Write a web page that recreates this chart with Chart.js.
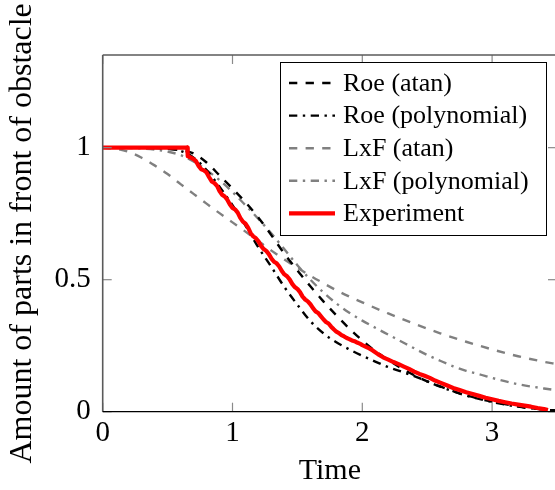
<!DOCTYPE html>
<html>
<head>
<meta charset="utf-8">
<script src="https://cdn.jsdelivr.net/npm/chart.js@4.4.1/dist/chart.umd.min.js"></script>
<style>
html,body{margin:0;padding:0;overflow:hidden;background:#fff;width:555px;height:490px;}
canvas{display:block;}
</style>
</head>
<body>
<canvas id="c" width="560" height="490"></canvas>
<script>
// ---- data ----
const seriesLabels = ['Roe (atan)', 'Roe (polynomial)', 'LxF (atan)', 'LxF (polynomial)', 'Experiment'];
const xTickValues = [0, 1, 2, 3];
const yTickValues = [0, 0.5, 1];
const xAxisTitle = 'Time';
const yAxisTitle = 'Amount of parts in front of obstacle';

const roeAtanX = [0, 0.4, 0.5, 0.6, 0.7, 0.8, 0.9, 1.0, 1.1, 1.2, 1.3, 1.4, 1.5, 1.6, 1.7, 1.8, 1.9, 2.0, 2.1, 2.2, 2.3, 2.4, 2.5, 2.6, 2.7, 2.8, 3.0, 3.2, 3.4, 3.5];
const roeAtanY = [1, 0.999, 0.996, 0.99, 0.978, 0.944, 0.895, 0.845, 0.793, 0.735, 0.668, 0.598, 0.535, 0.475, 0.418, 0.365, 0.315, 0.27, 0.23, 0.196, 0.165, 0.138, 0.115, 0.096, 0.078, 0.062, 0.038, 0.02, 0.008, 0.004];

const roePolyX = [0, 0.4, 0.5, 0.6, 0.7, 0.8, 0.9, 1.0, 1.1, 1.2, 1.3, 1.4, 1.5, 1.6, 1.7, 1.8, 1.9, 2.0, 2.1, 2.2, 2.3, 2.4, 2.5, 2.6, 2.7, 2.8, 3.0, 3.2, 3.4, 3.5];
const roePolyY = [1, 0.999, 0.996, 0.988, 0.962, 0.915, 0.852, 0.782, 0.705, 0.622, 0.548, 0.472, 0.405, 0.343, 0.297, 0.263, 0.236, 0.212, 0.19, 0.169, 0.152, 0.135, 0.115, 0.095, 0.077, 0.061, 0.037, 0.019, 0.008, 0.004];

const lxfAtanX = [0, 0.1, 0.2, 0.3, 0.4, 0.5, 0.6, 0.7, 0.8, 0.9, 1.0, 1.1, 1.2, 1.3, 1.4, 1.5, 1.6, 1.7, 1.8, 1.9, 2.0, 2.2, 2.4, 2.6, 2.8, 3.0, 3.2, 3.4, 3.5];
const lxfAtanY = [1, 0.996, 0.984, 0.962, 0.933, 0.9, 0.862, 0.825, 0.788, 0.752, 0.717, 0.682, 0.646, 0.61, 0.576, 0.545, 0.515, 0.487, 0.46, 0.436, 0.414, 0.372, 0.333, 0.297, 0.265, 0.236, 0.21, 0.189, 0.18];

const lxfPolyX = [0, 0.2, 0.4, 0.5, 0.6, 0.7, 0.8, 0.9, 1.0, 1.1, 1.2, 1.3, 1.4, 1.5, 1.6, 1.7, 1.8, 1.9, 2.0, 2.1, 2.2, 2.3, 2.4, 2.5, 2.6, 2.7, 2.8, 2.9, 3.0, 3.2, 3.4, 3.5];
const lxfPolyY = [1, 0.999, 0.993, 0.985, 0.972, 0.948, 0.915, 0.877, 0.832, 0.782, 0.73, 0.675, 0.615, 0.555, 0.5, 0.452, 0.41, 0.375, 0.345, 0.318, 0.292, 0.266, 0.24, 0.215, 0.193, 0.172, 0.155, 0.142, 0.128, 0.104, 0.088, 0.081];

const expX = [0, 0.652, 0.655, 0.68, 0.70, 0.72, 0.74, 0.76, 0.78, 0.80, 0.82, 0.84, 0.86, 0.88, 0.90, 0.92, 0.94, 0.96, 0.98, 1.00, 1.02, 1.04, 1.06, 1.08, 1.10, 1.12, 1.14, 1.16, 1.18, 1.20, 1.22, 1.24, 1.26, 1.28, 1.30, 1.32, 1.34, 1.36, 1.38, 1.40, 1.42, 1.44, 1.46, 1.48, 1.50, 1.52, 1.54, 1.56, 1.58, 1.60, 1.62, 1.64, 1.66, 1.68, 1.70, 1.72, 1.74, 1.76, 1.78, 1.80, 1.82, 1.84, 1.86, 1.88, 1.90, 1.92, 1.94, 1.96, 1.98, 2.00, 2.04, 2.08, 2.12, 2.16, 2.20, 2.24, 2.28, 2.32, 2.36, 2.40, 2.44, 2.48, 2.52, 2.56, 2.60, 2.65, 2.70, 2.75, 2.80, 2.85, 2.90, 2.95, 3.00, 3.05, 3.10, 3.15, 3.20, 3.25, 3.30, 3.35, 3.40, 3.43];
const expY = [1, 1, 0.968, 0.962, 0.957, 0.948, 0.930, 0.918, 0.914, 0.906, 0.888, 0.872, 0.866, 0.856, 0.836, 0.822, 0.815, 0.803, 0.785, 0.772, 0.766, 0.754, 0.734, 0.720, 0.712, 0.697, 0.676, 0.664, 0.657, 0.645, 0.628, 0.616, 0.609, 0.597, 0.580, 0.568, 0.562, 0.550, 0.533, 0.520, 0.513, 0.501, 0.484, 0.472, 0.465, 0.453, 0.436, 0.425, 0.418, 0.407, 0.392, 0.380, 0.374, 0.362, 0.350, 0.340, 0.334, 0.322, 0.312, 0.303, 0.298, 0.290, 0.285, 0.279, 0.275, 0.270, 0.267, 0.262, 0.258, 0.252, 0.243, 0.232, 0.218, 0.206, 0.197, 0.188, 0.180, 0.171, 0.162, 0.152, 0.143, 0.136, 0.128, 0.118, 0.110, 0.100, 0.090, 0.082, 0.074, 0.067, 0.060, 0.053, 0.047, 0.041, 0.036, 0.031, 0.027, 0.023, 0.019, 0.014, 0.010, 0.006];

// ---- helpers ----
const pts = (xs, ys) => xs.map((v, i) => ({x: v, y: ys[i]}));
const FONT = "'Liberation Serif', 'Times New Roman', serif";
const DASHED = [8.3, 8.3];
const DASHDOT = [8.3, 5.5, 2.4, 5.5];

const datasets = [
  {label: seriesLabels[0], data: pts(roeAtanX, roeAtanY), borderColor: '#000000', borderWidth: 2.4, borderDash: DASHED, cubicInterpolationMode: 'monotone', order: 2},
  {label: seriesLabels[1], data: pts(roePolyX, roePolyY), borderColor: '#000000', borderWidth: 2.4, borderDash: DASHDOT, cubicInterpolationMode: 'monotone', order: 1},
  {label: seriesLabels[2], data: pts(lxfAtanX, lxfAtanY), borderColor: '#808080', borderWidth: 2.4, borderDash: DASHED, cubicInterpolationMode: 'monotone', order: 4},
  {label: seriesLabels[3], data: pts(lxfPolyX, lxfPolyY), borderColor: '#808080', borderWidth: 2.4, borderDash: DASHDOT, cubicInterpolationMode: 'monotone', order: 3},
  {label: seriesLabels[4], data: pts(expX, expY), borderColor: '#ff0000', borderWidth: 4.2, tension: 0, order: 0}
];
datasets.forEach(d => { d.pointRadius = 0; d.fill = false; d.borderCapStyle = 'butt'; d.borderJoinStyle = 'round'; });

const framePlugin = {
  id: 'frame',
  afterDatasetsDraw(chart) {
    const {ctx, chartArea: a, scales} = chart;
    const sx = scales.x, sy = scales.y;
    const line = (x1, y1, x2, y2) => { ctx.beginPath(); ctx.moveTo(x1, y1); ctx.lineTo(x2, y2); ctx.stroke(); };
    ctx.save();
    ctx.setLineDash([]);
    ctx.strokeStyle = '#8a8a8a';
    ctx.lineWidth = 1.2;
    const tl = 9;
    sx.ticks.forEach(t => {
      const px = sx.getPixelForValue(t.value);
      line(px, a.bottom, px, a.bottom - tl);
      line(px, a.top, px, a.top + tl);
    });
    sy.ticks.forEach(t => {
      const py = sy.getPixelForValue(t.value);
      line(a.left, py, a.left + tl, py);
      line(a.right, py, a.right - tl, py);
    });
    ctx.strokeStyle = '#5a5a5a';
    ctx.lineWidth = 1.6;
    line(a.left, a.top, a.right, a.top);
    line(a.left, a.top, a.left, a.bottom);
    line(a.right, a.top, a.right, a.bottom);
    ctx.strokeStyle = '#000000';
    ctx.lineWidth = 1.3;
    line(a.left, a.bottom, a.right, a.bottom);
    ctx.restore();
  },
  afterDraw(chart) {
    const {ctx} = chart;
    const box = {l: 280.5, t: 62.5, r: 546.5, b: 235.5};
    ctx.save();
    ctx.fillStyle = '#ffffff';
    ctx.fillRect(box.l, box.t, box.r - box.l, box.b - box.t);
    ctx.setLineDash([]);
    ctx.strokeStyle = '#000000';
    ctx.lineWidth = 1;
    ctx.strokeRect(box.l, box.t, box.r - box.l, box.b - box.t);
    chart.data.datasets.forEach((d, i) => {
      const cy = 83 + i * 32.6;
      ctx.beginPath();
      ctx.setLineDash(d.borderDash || []);
      ctx.lineCap = 'butt';
      ctx.strokeStyle = d.borderColor;
      ctx.lineWidth = d.borderWidth;
      ctx.moveTo(289, cy);
      ctx.lineTo(335, cy);
      ctx.stroke();
      ctx.setLineDash([]);
      ctx.fillStyle = '#000000';
      ctx.font = "26px " + FONT;
      ctx.textBaseline = 'middle';
      ctx.textAlign = 'left';
      ctx.fillText(d.label, 343, cy + 1);
    });
    ctx.restore();
  }
};

new Chart(document.getElementById('c'), {
  type: 'line',
  data: {datasets},
  options: {
    responsive: false,
    animation: false,
    events: [],
    layout: {padding: {top: 55, right: 3, left: 0, bottom: 0}},
    plugins: {legend: {display: false}, tooltip: {enabled: false}},
    scales: {
      x: {
        type: 'linear', min: 0, max: 3.5,
        afterBuildTicks: s => { s.ticks = xTickValues.map(v => ({value: v})); },
        afterFit: s => { s.height = 78.3; },
        grid: {display: false, drawTicks: false},
        border: {display: false},
        ticks: {color: '#000', padding: 4, maxRotation: 0, font: {family: FONT, size: 29}, callback: v => String(v)},
        title: {display: true, text: xAxisTitle, color: '#000', font: {family: FONT, size: 30}, padding: {top: 0, bottom: 1}}
      },
      y: {
        type: 'linear', min: 0, max: 1.351,
        afterBuildTicks: s => { s.ticks = yTickValues.map(v => ({value: v})); },
        afterFit: s => { s.width = 102.7; },
        grid: {display: false, drawTicks: false},
        border: {display: false},
        ticks: {color: '#000', padding: 12, font: {family: FONT, size: 29}, callback: v => String(v)},
        title: {display: true, text: yAxisTitle, color: '#000', font: {family: FONT, size: 32}, padding: {top: 3, bottom: 0}}
      }
    }
  },
  plugins: [framePlugin]
});
</script>
</body>
</html>
